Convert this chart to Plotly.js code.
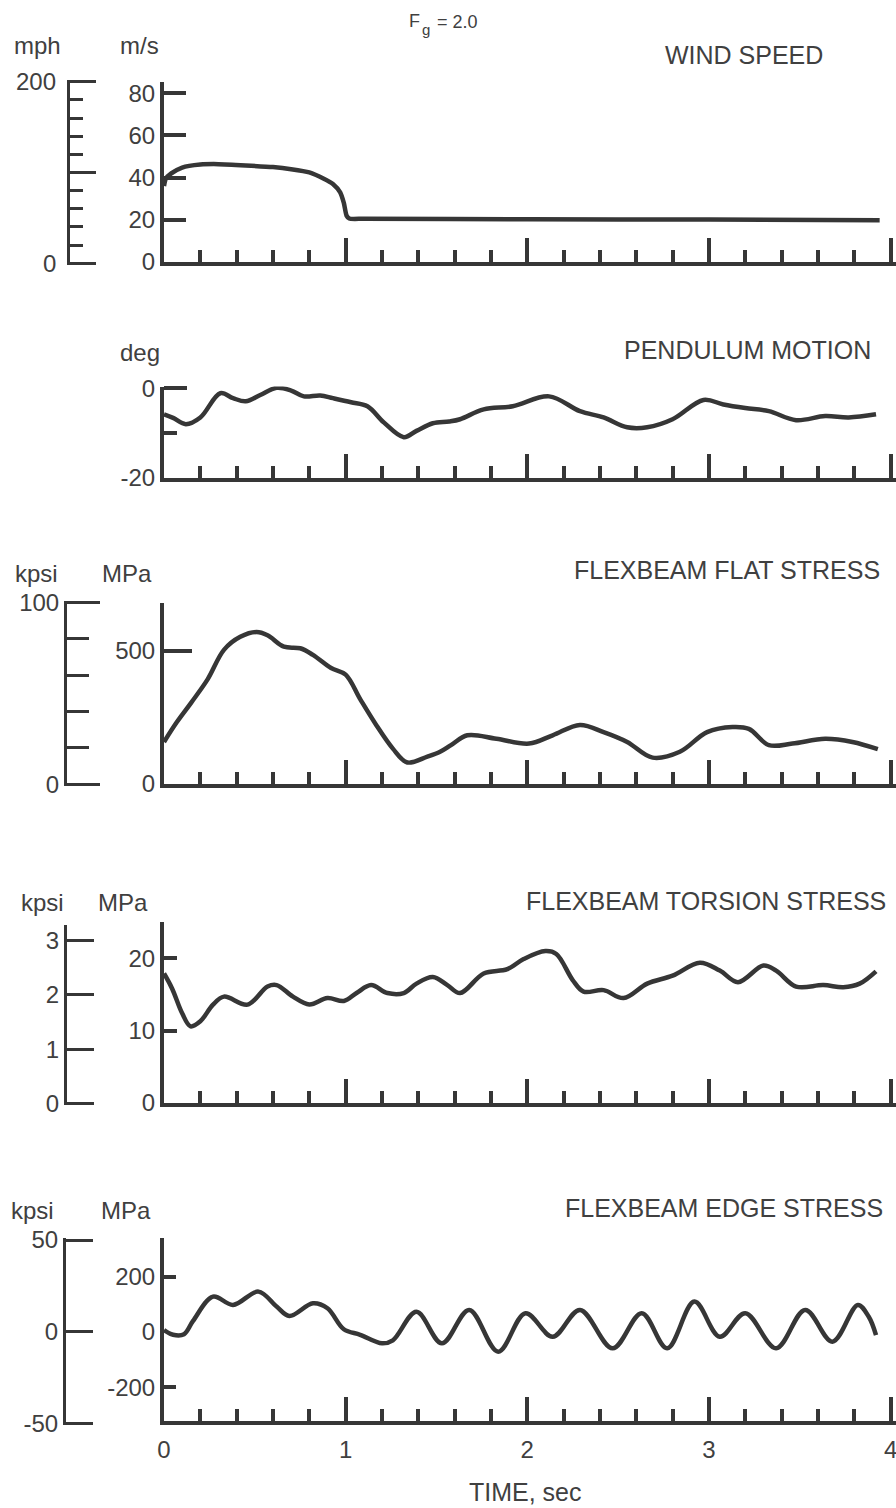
<!DOCTYPE html>
<html>
<head>
<meta charset="utf-8">
<script src="https://cdn.plot.ly/plotly-3.0.1.min.js"></script>
<style>
  html, body { margin: 0; padding: 0; background: #fff; }
  #chart { width: 896px; height: 1508px; }
</style>
</head>
<body>
<div id="chart"></div>
<script>
// ---- Recorded time histories (time in seconds) ----
const windTime  = [0, 0.01, 0.04, 0.1, 0.2, 0.3, 0.45, 0.6, 0.7, 0.8, 0.88, 0.93, 0.97, 0.99, 1.005, 1.02, 1.1, 2.0, 3.0, 3.94];
const windSpeed = [36, 39.5, 42, 44.8, 46.2, 46.4, 45.8, 45, 44, 42.5, 39.5, 37, 33, 28, 22, 20.6, 20.5, 20.3, 20.1, 19.8]; // m/s

const pendTime  = [0, 0.05, 0.12, 0.2, 0.31, 0.38, 0.45, 0.53, 0.62, 0.7, 0.77, 0.86, 0.93, 1.03, 1.12, 1.21, 1.32, 1.39, 1.48, 1.57, 1.63, 1.76, 1.92, 2.12, 2.29, 2.42, 2.55, 2.66, 2.8, 2.97, 3.08, 3.2, 3.33, 3.48, 3.64, 3.77, 3.92];
const pendAngle = [-5.8, -6.6, -8.0, -6.5, -1.1, -2.2, -2.9, -1.5, 0.1, -0.5, -1.8, -1.6, -2.2, -3.1, -4.0, -7.6, -10.9, -9.5, -7.8, -7.4, -6.9, -4.7, -4.0, -1.8, -5.1, -6.5, -8.7, -8.7, -6.9, -2.6, -3.6, -4.4, -5.1, -7.1, -6.2, -6.5, -5.8]; // deg

const flatTime   = [0, 0.07, 0.15, 0.24, 0.33, 0.42, 0.51, 0.57, 0.66, 0.75, 0.82, 0.92, 1.0, 1.08, 1.17, 1.26, 1.34, 1.45, 1.52, 1.58, 1.67, 1.83, 2.01, 2.14, 2.29, 2.42, 2.55, 2.69, 2.84, 2.99, 3.13, 3.22, 3.33, 3.46, 3.64, 3.79, 3.93];
const flatStress = [158, 232, 306, 393, 504, 553, 571, 559, 516, 510, 485, 436, 411, 319, 220, 133, 81, 103, 121, 146, 183, 170, 152, 183, 222, 195, 158, 99, 121, 195, 214, 207, 146, 152, 170, 158, 131]; // MPa

const torsTime   = [0, 0.045, 0.1, 0.146, 0.2, 0.27, 0.33, 0.46, 0.57, 0.62, 0.71, 0.8, 0.9, 0.99, 1.06, 1.14, 1.23, 1.32, 1.39, 1.48, 1.56, 1.63, 1.76, 1.89, 1.98, 2.1, 2.16, 2.25, 2.31, 2.42, 2.53, 2.66, 2.8, 2.95, 3.06, 3.16, 3.3, 3.37, 3.48, 3.63, 3.74, 3.83, 3.92];
const torsStress = [17.9, 15.8, 12.4, 10.6, 11.3, 13.6, 14.7, 13.6, 16.1, 16.3, 14.7, 13.6, 14.5, 14.1, 15.2, 16.3, 15.2, 15.2, 16.5, 17.4, 16.3, 15.2, 17.9, 18.5, 19.9, 21.0, 20.6, 17.0, 15.4, 15.6, 14.5, 16.5, 17.6, 19.4, 18.3, 16.7, 19.0, 18.3, 16.1, 16.3, 16.0, 16.5, 18.2]; // MPa

const edgeTime   = [0, 0.05, 0.11, 0.16, 0.27, 0.38, 0.52, 0.62, 0.69, 0.82, 0.9, 0.99, 1.08, 1.2, 1.26, 1.39, 1.53, 1.68, 1.84, 1.99, 2.14, 2.29, 2.47, 2.63, 2.77, 2.92, 3.06, 3.2, 3.37, 3.53, 3.68, 3.82, 3.88, 3.92];
const edgeStress = [7, -10, -8, 40, 128, 98, 146, 92, 58, 104, 86, 10, -10, -41, -30, 73, -41, 80, -71, 68, -17, 80, -59, 68, -59, 110, -17, 68, -59, 80, -35, 98, 55, -11]; // MPa

// ---- Axis labelling ----
const mphTicks      = [0, 100, 200];
const mphLabels     = [0, 200];
const mphMinor      = [20, 40, 60, 80, 120, 140, 160, 180];
const windTicks     = [0, 20, 40, 60, 80];
const pendTicks     = [0, -20];
const pendMinor     = [-10];
const flatKpsiTicks = [0, 100];
const flatKpsiMinor = [20, 40, 60, 80];
const flatTicks     = [0, 500];
const torsKpsiTicks = [0, 1, 2, 3];
const torsTicks     = [0, 10, 20];
const edgeKpsiTicks = [-50, 0, 50];
const edgeTicks     = [-200, 0, 200];
const edgeMinor     = [-200, 200];

// ---- Styling helpers ----
const W = 896, H = 1508;
const fx = v => v / W;          // pixel column -> paper fraction
const fy = v => 1 - v / H;      // pixel row    -> paper fraction
const INK  = '#363636';
const TEXT = '#404040';
const FONT = '"Liberation Sans", Arial, Helvetica, sans-serif';
const tickFont = { family: FONT, size: 24, color: TEXT };

function curve(x, y, xa, ya, smoothing) {
  return {
    type: 'scatter', mode: 'lines', x: x, y: y, xaxis: xa, yaxis: ya,
    line: { color: INK, width: 4.5, shape: 'spline', smoothing: smoothing },
    hoverinfo: 'skip', showlegend: false
  };
}
// placeholder trace so a stand-alone scale axis gets its own subplot
function scaleHolder(xa, ya) {
  return { type: 'scatter', mode: 'lines', x: [null], y: [null], xaxis: xa, yaxis: ya, hoverinfo: 'skip', showlegend: false };
}

function timeAxis(anchor, showLabels) {
  return {
    domain: [fx(164), 1], range: [0, 4.03], anchor: anchor,
    showline: true, linecolor: INK, linewidth: 4,
    ticks: 'inside', tickmode: 'linear', tick0: 0, dtick: 1, ticklen: 24, tickwidth: 4, tickcolor: INK,
    minor: { ticks: 'inside', tick0: 0, dtick: 0.2, ticklen: 12, tickwidth: 4, tickcolor: INK, showgrid: false },
    showgrid: false, zeroline: false, showticklabels: showLabels, tickfont: tickFont,
    ticklabeloverflow: 'allow', ticklabelstandoff: 4, fixedrange: true
  };
}

function valueAxis(anchor, bottom, top, range, tickvals, ticktext, ticklen, minorVals, minorLen, lw) {
  const w = lw || 4;
  const ax = {
    domain: [fy(bottom), fy(top)], range: range, anchor: anchor, side: 'left',
    showline: true, linecolor: INK, linewidth: w,
    ticks: ticklen > 0 ? 'inside' : '', tickmode: 'array', tickvals: tickvals,
    ticklen: ticklen, tickwidth: w, tickcolor: INK,
    showgrid: false, zeroline: false, tickfont: tickFont, ticklabeloverflow: 'allow', fixedrange: true
  };
  if (ticktext) ax.ticktext = ticktext; else ax.showticklabels = false;
  if (minorVals) {
    ax.minor = { ticks: 'inside', tickmode: 'array', tickvals: minorVals, ticklen: minorLen, tickwidth: w, tickcolor: INK, showgrid: false };
  }
  return ax;
}

function freeAxis(xPix, bottom, top, range, tickvals, ticktext, ticklen, minorVals, minorLen) {
  const ax = valueAxis('free', bottom, top, range, tickvals, ticktext, ticklen, minorVals, minorLen, 3);
  ax.position = fx(xPix);
  return ax;
}

const data = [
  curve(windTime, windSpeed, 'x',  'y',  0.6),
  curve(pendTime, pendAngle, 'x2', 'y2', 1),
  curve(flatTime, flatStress, 'x3', 'y3', 1),
  curve(torsTime, torsStress, 'x4', 'y4', 1),
  curve(edgeTime, edgeStress, 'x5', 'y5', 1),
  scaleHolder('x',  'y6'),
  scaleHolder('x3', 'y7'),
  scaleHolder('x4', 'y8'),
  scaleHolder('x5', 'y9')
];

function note(text, x, y, xanchor, size) {
  return { text: text, x: fx(x), y: fy(y), xref: 'paper', yref: 'paper', xanchor: xanchor, yanchor: 'middle',
           showarrow: false, font: { family: FONT, size: size || 24, color: TEXT } };
}
// labels of the mph scale, placed on that axis' own values
const mphNotes = mphLabels.map(v => ({
  text: String(v), x: fx(58), xref: 'paper', y: v, yref: 'y6', xanchor: 'right', yanchor: 'middle',
  showarrow: false, font: tickFont
}));

const layout = {
  width: W, height: H,
  margin: { l: 0, r: 0, t: 0, b: 0 },
  paper_bgcolor: '#ffffff', plot_bgcolor: 'rgba(0,0,0,0)',
  showlegend: false,
  xaxis:  timeAxis('y',  false),
  xaxis2: timeAxis('y2', false),
  xaxis3: timeAxis('y3', false),
  xaxis4: timeAxis('y4', false),
  xaxis5: timeAxis('y5', true),

  yaxis:  valueAxis('x',  262,    81.7,  [0, 85.5],        windTicks, windTicks.map(String), 22),
  yaxis2: valueAxis('x2', 478,    386.5, [-20, 0.4],       pendTicks, pendTicks.map(String), 23, pendMinor, 13),
  yaxis3: valueAxis('x3', 784,    603.3, [0, 679],         flatTicks, flatTicks.map(String), 28),
  yaxis4: valueAxis('x4', 1103,   921.7, [0, 25.06],       torsTicks, torsTicks.map(String), 13),
  yaxis5: valueAxis('x5', 1420.7, 1238.3, [-320.8, 338.9], edgeTicks, edgeTicks.map(String), 0, edgeMinor, 12),

  yaxis6: freeAxis(68, 265.1, 79.9,   [-2, 202],       mphTicks, null, 26, mphMinor, 13),
  yaxis7: freeAxis(65, 786.1, 600.5,  [-1, 101],       flatKpsiTicks, flatKpsiTicks.map(String), 33, flatKpsiMinor, 22),
  yaxis8: freeAxis(65, 1105.2, 925,   [-0.035, 3.29],  torsKpsiTicks, torsKpsiTicks.map(String), 27),
  yaxis9: freeAxis(64, 1425.1, 1238.2, [-51, 51],      edgeKpsiTicks, edgeKpsiTicks.map(String), 27),

  annotations: mphNotes.concat([
    // gust factor heading: F with a lowered g, then the value
    note('F', 414, 21, 'center', 18),
    note('g', 426, 29, 'center', 15),
    note('= 2.0', 435, 22, 'left', 18),
    note('mph', 37, 45, 'center'),
    note('m/s', 139, 45, 'center'),
    note('WIND SPEED', 825, 55, 'right', 25),
    note('deg', 140, 353, 'center'),
    note('PENDULUM MOTION', 873, 350, 'right', 25),
    note('kpsi', 36, 573, 'center'),
    note('MPa', 127, 573, 'center'),
    note('FLEXBEAM FLAT STRESS', 882, 570, 'right', 25),
    note('kpsi', 42, 902, 'center'),
    note('MPa', 123, 902, 'center'),
    note('FLEXBEAM TORSION STRESS', 888, 901, 'right', 25),
    note('kpsi', 32, 1210, 'center'),
    note('MPa', 126, 1210, 'center'),
    note('FLEXBEAM EDGE STRESS', 885, 1208, 'right', 25),
    note('TIME, sec', 525, 1492, 'center', 25)
  ])
};

Plotly.newPlot('chart', data, layout, { staticPlot: true, displayModeBar: false });
</script>
</body>
</html>
